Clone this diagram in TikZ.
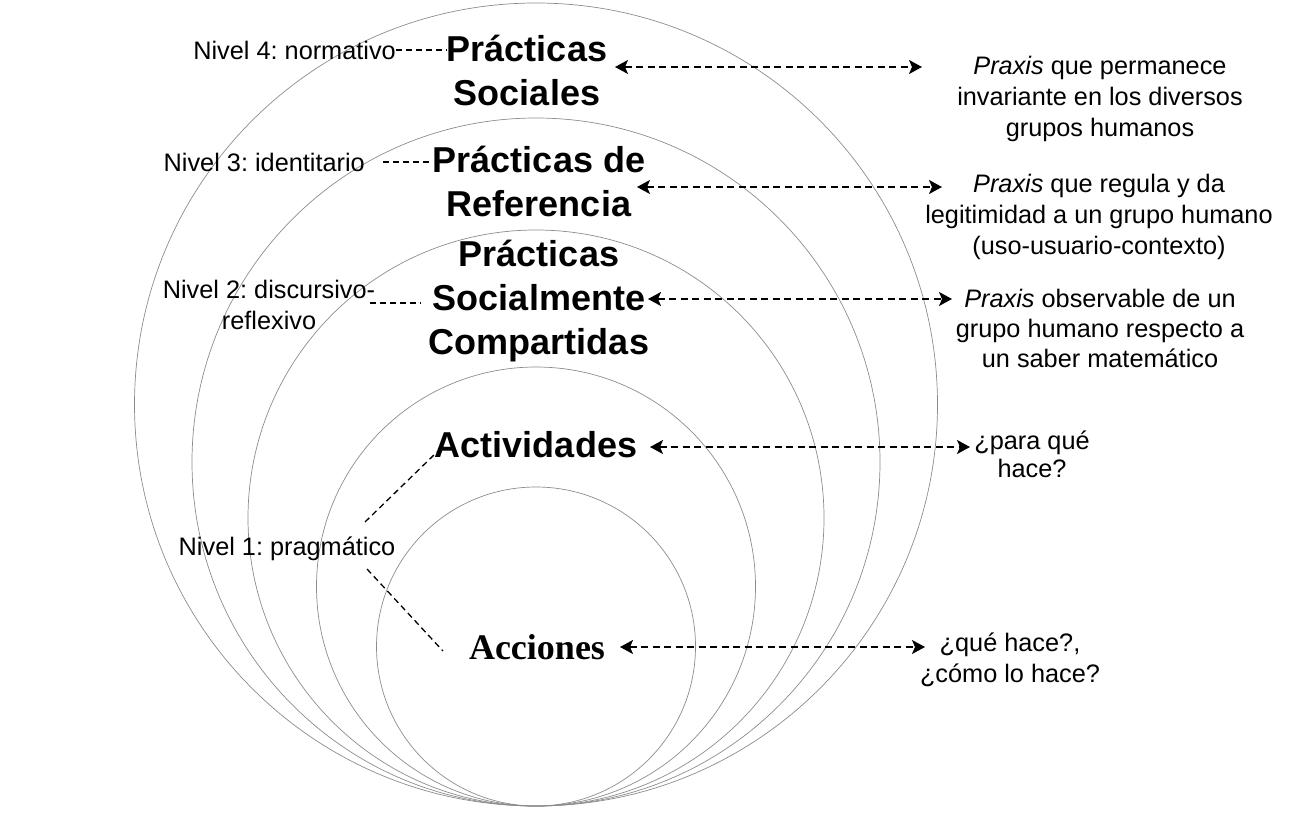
\documentclass[tikz,border=0pt]{standalone}
\usepackage{fontspec}
\setmainfont{Liberation Sans}
\newfontfamily\serifbold{Liberation Serif}
\usetikzlibrary{arrows.meta}
\frenchspacing
\begin{document}
\begin{tikzpicture}[x=1pt,y=-1pt,
  ring/.style={draw=black!45, line width=0.7pt},
  body/.style={font=\fontsize{25.3}{31}\selectfont, inner sep=0pt, align=center},
  title/.style={font=\fontsize{36}{44}\selectfont\bfseries, inner sep=0pt, align=center},
  lead/.style={draw=black, line width=1.5pt, dash pattern=on 6pt off 4pt},
  both/.style={draw=black, line width=1.6pt, dash pattern=on 7pt off 4.5pt,
    {Stealth[length=13pt,width=14pt,inset=3pt]}-{Stealth[length=13pt,width=14pt,inset=3pt]}}]
\useasboundingbox (0,0) rectangle (1308,816);

% nested circles, tangent at the bottom
\draw[ring] (536,404.5) circle (401.5pt);
\draw[ring] (536,462) circle (344pt);
\draw[ring] (536,518) circle (288pt);
\draw[ring] (536,586.5) circle (219.5pt);
\draw[ring] (536,646.5) circle (159.5pt);

% titles
\node[title] (PS) at (527,70) {Prácticas\\Sociales};
\node[title] (PR) at (539,181) {Prácticas de\\Referencia};
\node[title] (PSC) at (539,301) {Prácticas\\Socialmente\\Compartidas};
\node[title] (ACT) at (536,445) {Actividades};
\node[inner sep=0pt, font=\serifbold\fontsize{36}{44}\selectfont\bfseries] (ACC) at (537,647) {Acciones};

% level labels
\node[body, anchor=east] (N4) at (396,50) {Nivel 4: normativo};
\node[body, anchor=east] (N3) at (365,162) {Nivel 3: identitario};
\node[body] (N2) at (269,305) {Nivel 2: discursivo-\\reflexivo};
\node[body] (N1) at (287,549) {Nivel 1: pragmático};

% descriptions
\node[body] (D1) at (1100,99) {\textit{Praxis} que permanece\\invariante en los diversos\\grupos humanos};
\node[body] (D2) at (1099,217) {\textit{Praxis} que regula y da\\legitimidad a un grupo humano\\(uso-usuario-contexto)};
\node[body, font=\fontsize{25.3}{30}\selectfont] (D3) at (1100,328) {\textit{Praxis} observable de un\\grupo humano respecto a\\un saber matemático};
\node[body, font=\fontsize{25.3}{28}\selectfont] (D4) at (1032,454) {¿para qué\\hace?};
\node[body] (D5) at (1010,660) {¿qué hace?,\\¿cómo lo hace?};

% dashed leaders from level labels
\draw[lead] (N4.east) -- (N4.east -| PS.west);
\draw[lead, shorten <=18pt, shorten >=3pt] (N3.east) -- (N3.east -| PR.west);
\coordinate (n2a) at (370,303);
\draw[lead, shorten >=8pt] (n2a) -- (n2a -| PSC.west);
\coordinate (n1a) at (365,522);
\coordinate (n1b) at (437,452);
\coordinate (n1c) at (367,569);
\coordinate (n1d) at (443,651);
\draw[lead, line width=1.3pt] (n1a) -- (n1b);
\draw[lead, line width=1.3pt] (n1c) -- (n1d);

% double-headed dashed arrows
\coordinate (a1) at (615,67);  \coordinate (b1) at (922,67);
\coordinate (a2) at (637,187); \coordinate (b2) at (942,187);
\coordinate (a3) at (648,299); \coordinate (b3) at (952,299);
\coordinate (a4) at (650,447); \coordinate (b4) at (970,447);
\coordinate (a5) at (620,647); \coordinate (b5) at (925,647);
\draw[both] (a1) -- (b1);
\draw[both] (a2) -- (b2);
\draw[both] (a3) -- (b3);
\draw[both] (a4) -- (b4);
\draw[both] (a5) -- (b5);
\end{tikzpicture}
\end{document}
